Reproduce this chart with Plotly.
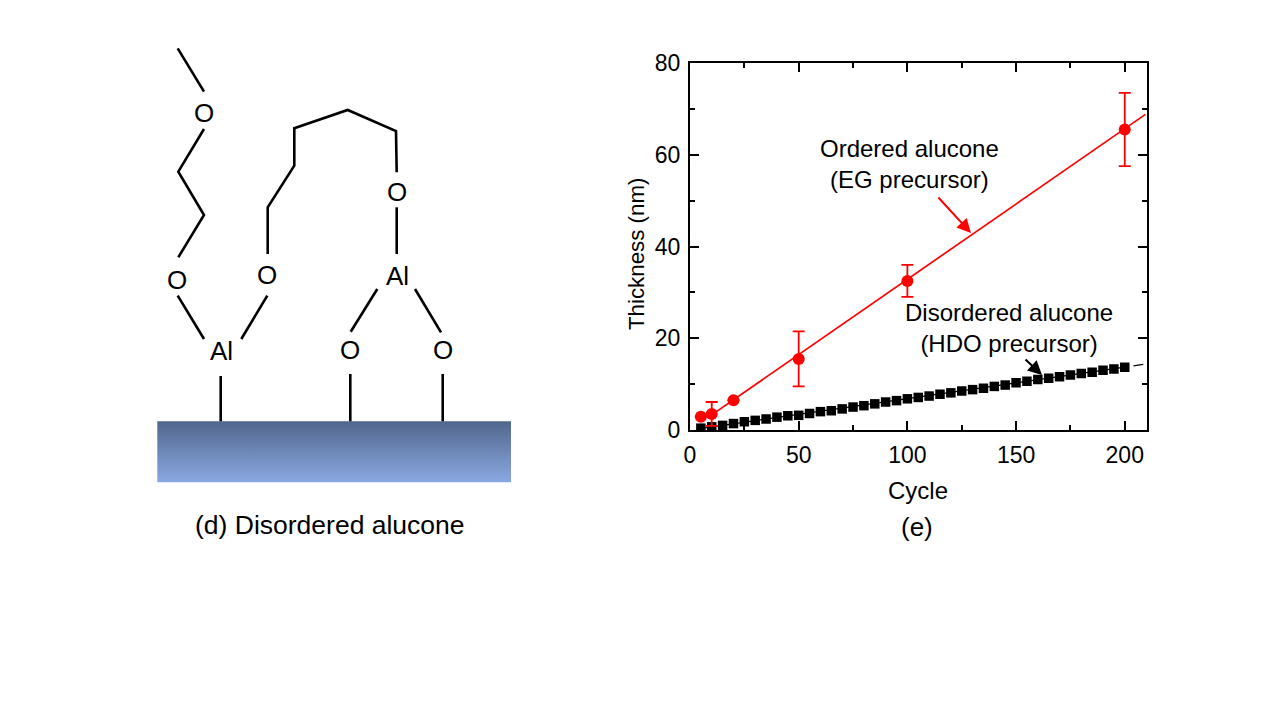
import plotly.graph_objects as go

W, H = 1280, 720
PAGE = 8  # the page body pushes the figure 8px right and down
FONT = "Liberation Sans"

# ordered alucone (red)
ordered_cycle = [5, 10, 20, 50, 100, 200]
ordered_thick = [2.9, 3.5, 6.5, 15.5, 32.5, 65.5]
ordered_err = [0, 2.6, 0, 6.0, 3.5, 8.0]
ordered_fit_x = [10, 209.5]
ordered_fit_y = [3.3, 68.8]

# disordered alucone (black squares)
disordered_cycle = list(range(5, 205, 5))
disordered_thick = [0.4, 0.7, 1.0, 1.4, 1.8, 2.1, 2.4, 2.8, 3.1, 3.2,
                    3.6, 4.0, 4.2, 4.6, 5.0, 5.3, 5.7, 6.1, 6.4, 6.8,
                    7.1, 7.4, 7.8, 8.1, 8.5, 8.8, 9.1, 9.5, 9.8, 10.3,
                    10.6, 11.0, 11.3, 11.6, 12.0, 12.3, 12.6, 13.0, 13.3, 13.7]
fit_x = [3, 200, None, 204, 208.5]
fit_y = [0.2, 13.7, None, 14.0, 14.3]

x_ticks = [0, 50, 100, 150, 200]
y_ticks = [0, 20, 40, 60, 80]

# schematic on the left, in page pixels
bonds = [
    [(177.7, 48.3), (204, 91.7)],
    [(204, 129), (178.3, 171.7), (204, 215), (178.3, 257.3)],
    [(267.7, 254), (267.7, 207.3), (294.3, 165.7), (294.3, 128.3),
     (347.7, 110), (396, 131), (396.7, 172.3)],
    [(396.7, 207.3), (396.7, 254)],
    [(177.7, 295.7), (204, 339)],
    [(267.3, 295.7), (241.3, 339)],
    [(377.3, 289), (350.7, 331.7)],
    [(415, 289), (441, 332.3)],
    [(220.7, 376), (220.7, 421.3)],
    [(350.3, 374), (350.3, 421.3)],
    [(442.7, 374), (442.7, 421.3)],
]
atoms = [("O", 203.5, 113), ("O", 177, 280), ("O", 267, 275), ("O", 396.5, 192),
         ("Al", 221, 351), ("Al", 397, 276), ("O", 350, 350), ("O", 443, 350)]
substrate_x = [157.3, 511, 511, 157.3, 157.3]
substrate_y = [421.3, 421.3, 482.3, 482.3, 421.3]

fig = go.Figure()

# substrate block
fig.add_trace(go.Scatter(
    x=substrate_x, y=substrate_y, xaxis="x2", yaxis="y2", mode="lines",
    line=dict(width=0), fill="toself",
    fillgradient=dict(type="vertical",
                      colorscale=[[0, "#8AA9E2"], [1, "#52668C"]]),
    showlegend=False, hoverinfo="skip"))

bx, by = [], []
for bond in bonds:
    bx += [p[0] for p in bond] + [None]
    by += [p[1] for p in bond] + [None]
fig.add_trace(go.Scatter(x=bx, y=by, xaxis="x2", yaxis="y2", mode="lines",
                         line=dict(color="black", width=2.6),
                         showlegend=False, hoverinfo="skip"))

# data
fig.add_trace(go.Scatter(x=fit_x, y=fit_y, mode="lines",
                         line=dict(color="black", width=1.3), showlegend=False))
fig.add_trace(go.Scatter(x=disordered_cycle, y=disordered_thick, mode="markers",
                         marker=dict(symbol="square", color="black", size=9.5),
                         showlegend=False))
fig.add_trace(go.Scatter(x=ordered_fit_x, y=ordered_fit_y, mode="lines",
                         line=dict(color="#FF0000", width=1.7), showlegend=False))
fig.add_trace(go.Scatter(x=ordered_cycle, y=ordered_thick, mode="markers",
                         marker=dict(color="#FF0000", size=12),
                         error_y=dict(type="data", array=ordered_err, visible=True,
                                      color="#FF0000", thickness=1.8, width=6),
                         showlegend=False))

axis_style = dict(showgrid=False, zeroline=False, showline=True, linecolor="black",
                  linewidth=2, mirror="ticks", ticks="inside", ticklen=9,
                  tickwidth=2, tickcolor="black", ticklabelstandoff=3,
                  tickfont=dict(family=FONT, size=23, color="black"))

fig_w, fig_h = W - PAGE, H - PAGE
fig.update_layout(
    width=fig_w, height=fig_h, autosize=False,
    margin=dict(l=0, r=0, t=0, b=0, pad=0, autoexpand=False),
    paper_bgcolor="white", plot_bgcolor="rgba(0,0,0,0)",
    font=dict(family=FONT, color="black"),
    xaxis=dict(domain=[(690 - PAGE) / fig_w, (1146.5 - PAGE) / fig_w], range=[0, 210],
               tickvals=x_ticks, anchor="y",
               minor=dict(dtick=25, ticks="inside", ticklen=5, tickwidth=2,
                          tickcolor="black"),
               **axis_style),
    yaxis=dict(domain=[1 - (430 - PAGE) / fig_h, 1 - (63 - PAGE) / fig_h], range=[0, 80],
               tickvals=y_ticks, anchor="x",
               minor=dict(dtick=10, ticks="inside", ticklen=5, tickwidth=2,
                          tickcolor="black"),
               **axis_style),
    xaxis2=dict(domain=[0, 1], range=[PAGE, W], visible=False, anchor="y2"),
    yaxis2=dict(domain=[0, 1], range=[H, PAGE], visible=False, anchor="x2"),
)


def label(text, x, y, size=24, rotate=0):
    fig.add_annotation(text=text, x=x, y=y, xref="x2", yref="y2", showarrow=False,
                       textangle=rotate, align="center",
                       font=dict(family=FONT, size=size, color="black"))


for name, ax_x, ax_y in atoms:
    label(name, ax_x, ax_y, size=26)

label("(d) Disordered alucone", 330, 525, size=26.5)
label("(e)", 917, 527, size=26)
label("Cycle", 918, 490, size=24)
label("Thickness (nm)", 636, 254, size=22.3, rotate=-90)
label("Ordered alucone<br>(EG precursor)", 909, 164)
label("Disordered alucone<br>(HDO precursor)", 1009, 328)


def arrow(x0, y0, x1, y1, color):
    fig.add_annotation(x=x1, y=y1, ax=x0, ay=y0, xref="x2", yref="y2",
                       axref="x2", ayref="y2", text="", showarrow=True,
                       arrowhead=2, arrowsize=1.4, arrowwidth=2, arrowcolor=color)


arrow(937, 196, 971, 233, "#FF0000")
arrow(1024, 358, 1042, 375, "black")

fig.write_html("out.html")
